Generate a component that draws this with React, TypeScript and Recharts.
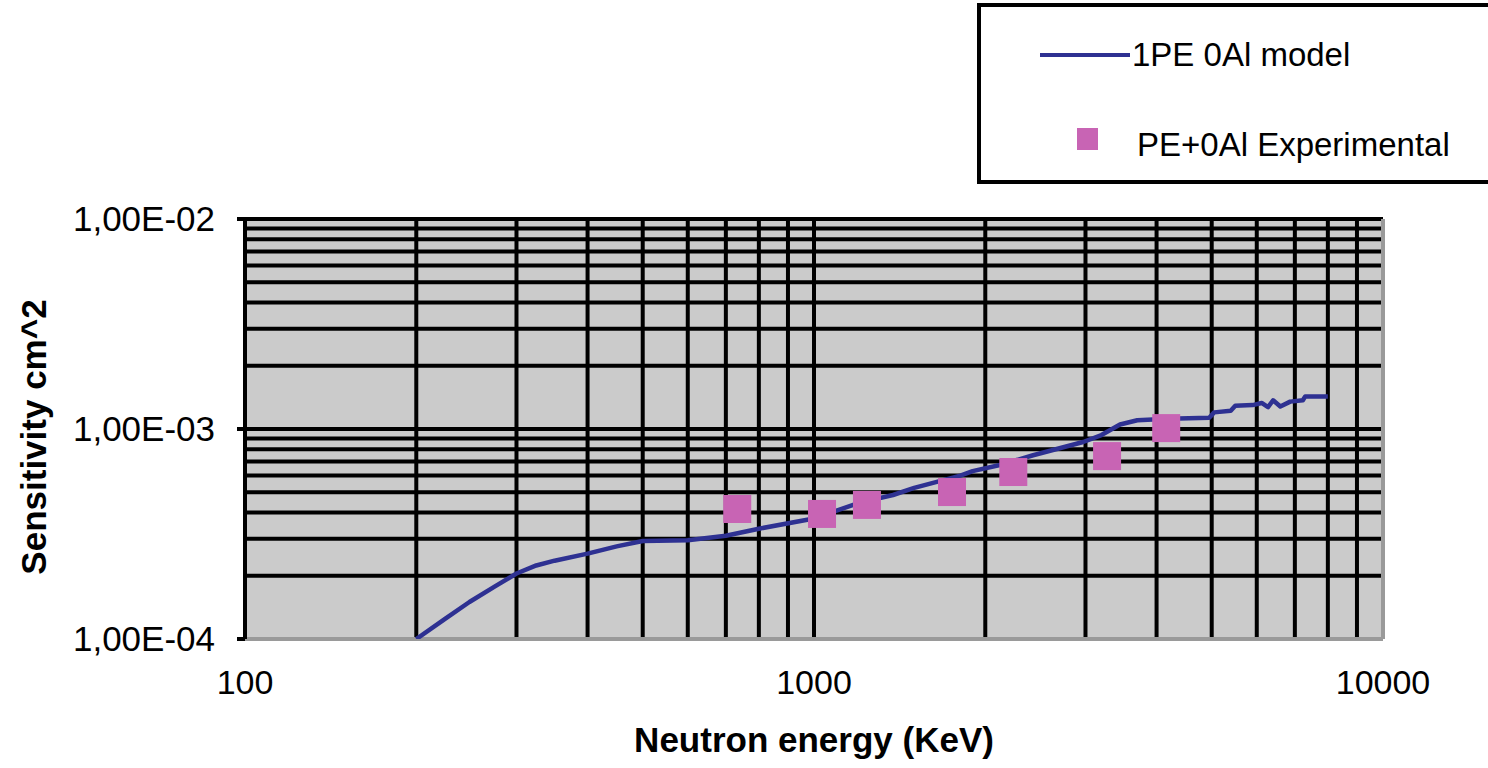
import React from 'react';
import { ComposedChart, Line, Scatter, XAxis, YAxis, CartesianGrid, ReferenceLine } from 'recharts';

// model curve (energy KeV, sensitivity cm^2)
const modelEnergy = [200, 225, 248, 275, 300, 325, 350, 400, 450, 500, 600, 700, 800, 1000, 1200, 1377, 1500, 1808, 1900, 2122, 2427, 2972, 3200, 3450, 3700, 4200, 4950, 5050, 5400, 5500, 5900, 6120, 6280, 6410, 6600, 6870, 7230, 7300, 8000];
const modelSens = [1.0e-4, 1.25e-4, 1.5e-4, 1.78e-4, 2.05e-4, 2.24e-4, 2.36e-4, 2.55e-4, 2.76e-4, 2.93e-4, 2.95e-4, 3.1e-4, 3.35e-4, 3.75e-4, 4.45e-4, 4.85e-4, 5.24e-4, 6.0e-4, 6.3e-4, 6.74e-4, 7.5e-4, 8.67e-4, 9.36e-4, 1.05e-3, 1.1e-3, 1.12e-3, 1.13e-3, 1.2e-3, 1.22e-3, 1.29e-3, 1.3e-3, 1.33e-3, 1.27e-3, 1.37e-3, 1.28e-3, 1.35e-3, 1.37e-3, 1.43e-3, 1.43e-3];

// experimental points
const expEnergy = [733, 1033, 1239, 1748, 2240, 3274, 4159];
const expSens = [4.16e-4, 3.94e-4, 4.35e-4, 5.01e-4, 6.24e-4, 7.43e-4, 1.01e-3];

const xTicks = [100, 1000, 10000];
const yTicks = [1e-4, 1e-3, 1e-2];
const xGrid = [200, 300, 400, 500, 600, 700, 800, 900, 1000, 2000, 3000, 4000, 5000, 6000, 7000, 8000, 9000];
const yGrid = [2e-4, 3e-4, 4e-4, 5e-4, 6e-4, 7e-4, 8e-4, 9e-4, 1e-3, 2e-3, 3e-3, 4e-3, 5e-3, 6e-3, 7e-3, 8e-3, 9e-3, 1e-2];

const LINE = '#2e3192';
const MARK = '#c864b4';
const FONT = 'Arial, "Liberation Sans", Helvetica, sans-serif';

const modelData = modelEnergy.map((x, i) => ({ x, y: modelSens[i] }));
const expData = expEnergy.map((x, i) => ({ x, y: expSens[i] }));

const fmtY = (v: number) => {
  const e = Math.round(Math.log10(v));
  return `1,00E-${String(Math.abs(e)).padStart(2, '0')}`;
};

const Square = (p: any) => <rect x={p.cx - 14} y={p.cy - 14} width={28} height={28} fill={MARK} />;

const ChartLegend = () => (
  <div style={{ position: 'absolute', left: 977, top: 3, width: 507, height: 173, border: '4px solid #000', borderRight: 'none', background: '#fff', fontFamily: FONT, fontSize: 33, color: '#000' }}>
    <div style={{ position: 'absolute', left: 59, top: 46, width: 90, height: 4, background: LINE }} />
    <div style={{ position: 'absolute', left: 151, top: 28, lineHeight: '40px' }}>1PE 0Al model</div>
    <div style={{ position: 'absolute', left: 96, top: 121, width: 21, height: 22, background: MARK }} />
    <div style={{ position: 'absolute', left: 156, top: 118, lineHeight: '40px' }}>PE+0Al Experimental</div>
  </div>
);

export default function App() {
  return (
    <div style={{ position: 'absolute', left: 0, top: 0, width: 1488, height: 768, background: '#fff', overflow: 'hidden' }}>
      <ComposedChart width={1488} height={768} margin={{ top: 219, right: 105, bottom: 69, left: 5 }}>
        <CartesianGrid fill="#cbcbcb" horizontal={false} vertical={false} stroke="none" />
        <XAxis
          dataKey="x"
          type="number"
          scale="log"
          domain={[100, 10000]}
          ticks={xTicks}
          allowDataOverflow
          axisLine={false}
          tickLine={false}
          tickSize={0}
          tickMargin={31}
          height={60}
          tick={{ fill: '#000', fontSize: 34, fontFamily: FONT }}
          label={() => (
            <text x={814} y={752} textAnchor="middle" fontFamily={FONT} fontSize={35} fontWeight="bold" fill="#000">
              Neutron energy (KeV)
            </text>
          )}
        />
        <YAxis
          dataKey="y"
          type="number"
          scale="log"
          domain={[1e-4, 1e-2]}
          ticks={yTicks}
          allowDataOverflow
          width={240}
          tickFormatter={fmtY}
          axisLine={{ stroke: '#000', strokeWidth: 4 }}
          tickLine={{ stroke: '#000', strokeWidth: 4 }}
          tickSize={8}
          tickMargin={22}
          tick={{ fill: '#000', fontSize: 35, fontFamily: FONT }}
          label={() => (
            <text x={46} y={437} transform="rotate(-90 46 437)" textAnchor="middle" fontFamily={FONT} fontSize={35} fontWeight="bold" fill="#000">
              Sensitivity cm^2
            </text>
          )}
        />
        {yGrid.map((v) => (
          <ReferenceLine key={`h${v}`} y={v} stroke="#000" strokeWidth={4} />
        ))}
        {xGrid.map((v) => (
          <ReferenceLine key={`v${v}`} x={v} stroke="#000" strokeWidth={4} />
        ))}
        <ReferenceLine x={10000} stroke="#9a9a9a" strokeWidth={4} />
        <ReferenceLine y={1e-4} stroke="#9a9a9a" strokeWidth={4} />
        <Line
          data={modelData}
          dataKey="y"
          type="linear"
          stroke={LINE}
          strokeWidth={4.5}
          strokeLinejoin="round"
          dot={false}
          isAnimationActive={false}
          name="1PE 0Al model"
        />
        <Scatter
          data={expData}
          dataKey="y"
          fill={MARK}
          shape={Square}
          isAnimationActive={false}
          name="PE+0Al Experimental"
        />
      </ComposedChart>
      <ChartLegend />
    </div>
  );
}
